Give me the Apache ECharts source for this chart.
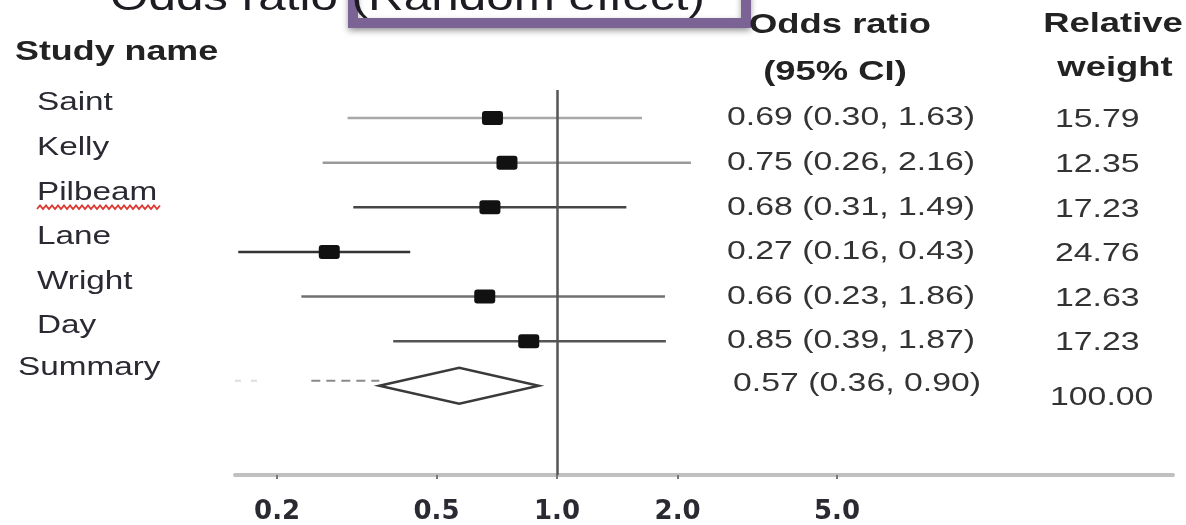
<!DOCTYPE html>
<html>
<head>
<meta charset="utf-8">
<script src="https://cdn.jsdelivr.net/npm/echarts@6/dist/echarts.min.js"></script>
<style>
  html, body { margin: 0; padding: 0; background: #fff; }
  #chart { width: 1186px; height: 525px; }
</style>
</head>
<body>
<div id="chart"></div>
<script>
// ---------- data ----------
const studies   = ['Saint', 'Kelly', 'Pilbeam', 'Lane', 'Wright', 'Day'];
const oddsRatio = [0.69, 0.75, 0.68, 0.27, 0.66, 0.85];
const ciLow     = [0.30, 0.26, 0.31, 0.16, 0.23, 0.39];
const ciHigh    = [1.63, 2.16, 1.49, 0.43, 1.86, 1.87];
const weights   = ['15.79', '12.35', '17.23', '24.76', '12.63', '17.23'];

const summaryLabel  = 'Summary';
const summaryOR     = 0.57;
const summaryLow    = 0.36;
const summaryHigh   = 0.90;
const summaryWeight = '100.00';

const tickValues = [0.2, 0.5, 1, 2, 5];
const tickLabels = ['0.2', '0.5', '1.0', '2.0', '5.0'];

const titleText   = 'Odds ratio (Random effect)';
const headerName  = 'Study name';
const headerOR    = ['Odds ratio', '(95% CI)'];
const headerW     = ['Relative', 'weight'];

// ---------- helpers / styles ----------
const lg = Math.log10;
const SX = 1.3;                       // horizontal stretch of the source picture
const FAM = '"Liberation Sans", Arial, sans-serif';
const ciColors = ['#a8a8a8', '#9a9a9a', '#454545', '#333333', '#707070', '#555555'];
const fmtOR = (o, l, h) => o.toFixed(2) + ' (' + l.toFixed(2) + ', ' + h.toFixed(2) + ')';

function txt(text, x, y, opts) {
  opts = opts || {};
  return {
    type: 'text',
    x: x, y: y,
    scaleX: opts.sx || SX,
    z: 10,
    style: {
      text: text,
      fill: opts.color || '#2a2a33',
      font: (opts.weight || 'normal') + ' ' + (opts.size || 26) + 'px ' + FAM,
      align: opts.align || 'left',
      verticalAlign: 'middle',
      textAlign: opts.align || 'left',
      textVerticalAlign: 'middle'
    }
  };
}

const studyData = studies.map((s, i) => [i, lg(oddsRatio[i]), lg(ciLow[i]), lg(ciHigh[i])]);
const summaryData = [[studies.length, lg(summaryOR), lg(summaryLow), lg(summaryHigh)]];

// zigzag (spell-check underline) decoration
const squiggle = [];
for (let x = 37, k = 0; x <= 162; x += 3, k++) squiggle.push([x, k % 2 ? 205.5 : 209]);

const chart = echarts.init(document.getElementById('chart'), null, { renderer: 'canvas' });

const option = {
  backgroundColor: '#ffffff',
  animation: false,
  grid: { left: 235, right: 13, top: 90, bottom: 50, containLabel: false },
  xAxis: {
    type: 'value',
    position: 'bottom',
    min: -0.804,
    max: 1.538,
    axisLine: { show: true, onZero: false, lineStyle: { color: '#c0c0c0', width: 4 } },
    axisTick: {
      show: true, length: 4, inside: false,
      customValues: tickValues.map(lg),
      lineStyle: { color: '#777', width: 2 }
    },
    axisLabel: {
      show: true,
      customValues: tickValues.map(lg),
      margin: 24,
      color: '#2a2a33',
      fontFamily: '"DejaVu Sans", sans-serif',
      fontWeight: 'bold',
      fontSize: 26,
      formatter: function (v) {
        let best = 0, d = Infinity;
        tickValues.forEach((t, i) => { const dd = Math.abs(lg(t) - v); if (dd < d) { d = dd; best = i; } });
        return tickLabels[best];
      }
    },
    splitLine: { show: false }
  },
  yAxis: {
    type: 'value',
    min: -0.63,
    max: 8,
    inverse: true,
    show: false,
    splitLine: { show: false }
  },
  graphic: [
    // purple framed box behind the title
    {
      type: 'rect', z: 1,
      shape: { x: 353, y: -40, width: 393, height: 63 },
      style: {
        fill: '#ffffff', stroke: '#7b6396', lineWidth: 10,
        shadowBlur: 6, shadowOffsetY: 3, shadowColor: 'rgba(0,0,0,0.35)'
      }
    },
    Object.assign(txt(titleText, 110, 0, { size: 38, color: '#1c1c22' }), { z: 5 }),
    txt(headerName, 15, 52, { size: 28, weight: 'bold', color: '#222', sx: 1.28 }),
    txt(headerOR[0], 840, 25, { size: 28, weight: 'bold', color: '#222', align: 'center' }),
    txt(headerOR[1], 835, 72, { size: 28, weight: 'bold', color: '#222', align: 'center' }),
    txt(headerW[0], 1113, 24, { size: 28, weight: 'bold', color: '#222', align: 'center' }),
    txt(headerW[1], 1115, 68, { size: 28, weight: 'bold', color: '#222', align: 'center' }),
    {
      type: 'polyline', z: 11,
      shape: { points: squiggle },
      style: { stroke: '#dc3a33', lineWidth: 1.8, fill: null }
    }
  ],
  series: [
    {
      type: 'custom',
      name: 'studies',
      clip: false,
      data: studyData,
      encode: { x: [1, 2, 3], y: 0 },
      renderItem: function (params, api) {
        const row = api.value(0);
        const c = api.coord([api.value(1), row]);
        const l = api.coord([api.value(2), row]);
        const h = api.coord([api.value(3), row]);
        const i = params.dataIndex;
        const y = c[1];
        return {
          type: 'group',
          children: [
            { type: 'line', shape: { x1: l[0], y1: y, x2: h[0], y2: y },
              style: { stroke: ciColors[i], lineWidth: 2.5 } },
            { type: 'rect', shape: { x: c[0] - 10.5, y: y - 7, width: 21, height: 14, r: 3 },
              style: { fill: '#111' }, z2: 5 },
            txt(studies[i], 37, y - 15, { sx: 1.28 }),
            txt(fmtOR(oddsRatio[i], ciLow[i], ciHigh[i]), 727, y, { color: '#333' }),
            txt(weights[i], 1055, y + 2, { color: '#333' })
          ]
        };
      },
      markLine: {
        silent: true,
        symbol: 'none',
        animation: false,
        label: { show: false },
        lineStyle: { color: '#555', width: 2.5, type: 'solid' },
        data: [{ xAxis: 0 }]
      },
      z: 3
    },
    {
      type: 'custom',
      name: 'summary',
      clip: false,
      data: summaryData,
      encode: { x: [1, 2, 3], y: 0 },
      renderItem: function (params, api) {
        const row = api.value(0);
        const c = api.coord([api.value(1), row]);
        const l = api.coord([api.value(2), row]);
        const h = api.coord([api.value(3), row]);
        const y = c[1];
        return {
          type: 'group',
          children: [
            { type: 'line', shape: { x1: l[0] - 68, y1: y - 5, x2: l[0], y2: y - 5 },
              style: { stroke: '#8a8a8a', lineWidth: 2, lineDash: [9, 6] } },
            { type: 'line', shape: { x1: 235, y1: y - 5, x2: 262, y2: y - 5 },
              style: { stroke: '#dddddd', lineWidth: 2, lineDash: [6, 10] } },
            { type: 'polygon',
              shape: { points: [[l[0], y], [c[0], y - 18], [h[0], y], [c[0], y + 18]] },
              style: { fill: '#fff', stroke: '#3a3a3a', lineWidth: 2.5 }, z2: 5 },
            txt(summaryLabel, 18, y - 18, { sx: 1.28 }),
            txt(fmtOR(summaryOR, summaryLow, summaryHigh), 733, y - 2, { color: '#333' }),
            txt(summaryWeight, 1050, y + 12, { color: '#333' })
          ]
        };
      },
      z: 3
    }
  ]
};

chart.setOption(option);
</script>
</body>
</html>
